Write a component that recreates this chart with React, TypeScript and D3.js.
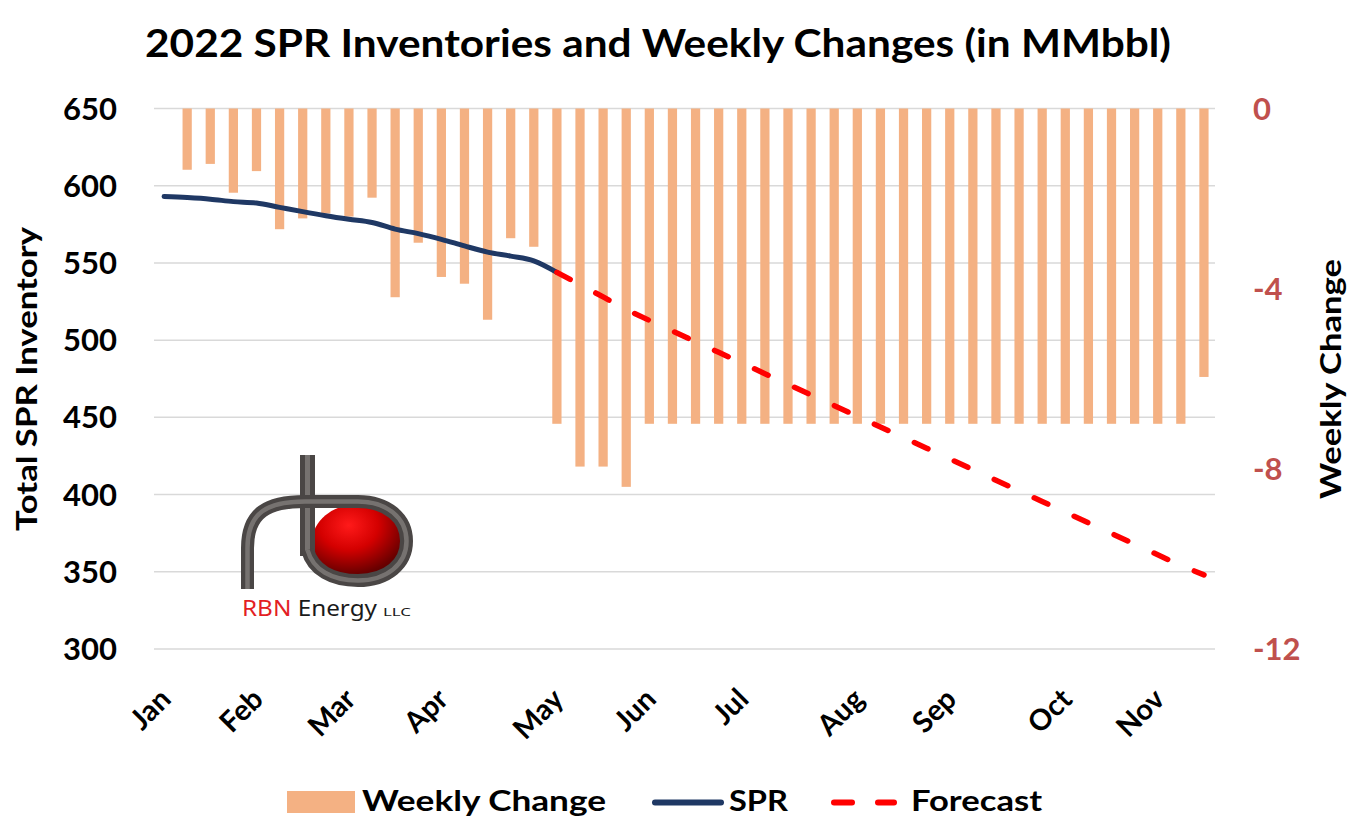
import React from "react";
import * as d3 from "d3";

const weeks = [
  "2022-01-07", "2022-01-14", "2022-01-21", "2022-01-28",
  "2022-02-04", "2022-02-11", "2022-02-18", "2022-02-25",
  "2022-03-04", "2022-03-11", "2022-03-18", "2022-03-25",
  "2022-04-01", "2022-04-08", "2022-04-15", "2022-04-22", "2022-04-29",
  "2022-05-06", "2022-05-13", "2022-05-20", "2022-05-27",
  "2022-06-03", "2022-06-10", "2022-06-17", "2022-06-24",
  "2022-07-01", "2022-07-08", "2022-07-15", "2022-07-22", "2022-07-29",
  "2022-08-05", "2022-08-12", "2022-08-19", "2022-08-26",
  "2022-09-02", "2022-09-09", "2022-09-16", "2022-09-23", "2022-09-30",
  "2022-10-07", "2022-10-14", "2022-10-21", "2022-10-28",
  "2022-11-04", "2022-11-11", "2022-11-18",
];

const weeklyChange: (number | null)[] = [
  null, -1.36, -1.23, -1.87, -1.39, -2.68, -2.44, -2.33, -2.4, -1.98,
  -4.19, -2.98, -3.74, -3.89, -4.69, -2.88, -3.07, -7.0, -7.95, -7.95,
  -8.4, -7.0, -7.0, -7.0, -7.0, -7.0, -7.0, -7.0, -7.0, -7.0,
  -7.0, -7.0, -7.0, -7.0, -7.0, -7.0, -7.0, -7.0, -7.0, -7.0,
  -7.0, -7.0, -7.0, -7.0, -7.0, -5.96,
];

const sprWeeks = weeks.slice(0, 18);
const sprValues = [
  593.0, 592.3, 591.3, 589.7, 588.8, 586.0, 583.2, 580.6, 578.3, 576.2,
  571.9, 569.0, 565.3, 561.0, 557.0, 554.4, 551.4, 543.9,
];

const forecastWeeks = weeks.slice(17);
const forecastValues = [
  543.9, 536.0, 528.0, 519.8, 512.8, 505.9, 499.0, 492.1, 485.2, 478.3,
  471.4, 464.5, 457.6, 450.7, 443.8, 436.9, 430.0, 423.1, 416.2, 409.3,
  402.4, 395.5, 388.6, 381.7, 374.8, 367.9, 361.0, 354.1, 348.0,
];

const monthTickWeeks = [
  "2022-01-07", "2022-02-04", "2022-03-04", "2022-04-01", "2022-05-06",
  "2022-06-03", "2022-07-01", "2022-08-05", "2022-09-02", "2022-10-07",
  "2022-11-04",
];
const monthLabels = ["Jan", "Feb", "Mar", "Apr", "May", "Jun", "Jul", "Aug", "Sep", "Oct", "Nov"];

const leftTicks = [300, 350, 400, 450, 500, 550, 600, 650];
const rightTicks = [0, -4, -8, -12];

const FONT = "Lato, 'Open Sans', sans-serif";
const BAR = "#F4B183";
const NAVY = "#1F3864";
const RED = "#FF0000";
const AXISRED = "#C0504D";
const GRID = "#D9D9D9";

function Logo() {
  const pipe =
    "M 247.5 589 L 247.5 548 C 247.5 512 268 501.5 305 501.5 L 358 501.5 " +
    "C 387 501.5 406.5 518 406.5 541 C 406.5 564 387 580.5 358 580.5 " +
    "C 332 580.5 313 570 307.5 550";
  const stem = "M 307.5 455 L 307.5 556";
  return (
    <g>
      <defs>
        <radialGradient id="ball" cx="0.4" cy="0.28" r="0.8">
          <stop offset="0" stopColor="#ff1a1a" />
          <stop offset="0.4" stopColor="#d40000" />
          <stop offset="0.8" stopColor="#6a0000" />
          <stop offset="1" stopColor="#4a0000" />
        </radialGradient>
      </defs>
      <ellipse cx={358} cy={542} rx={46} ry={38} fill="url(#ball)" />
      <path d={stem} stroke="#4a4645" strokeWidth={15} fill="none" />
      <path d={stem} stroke="#86817f" strokeWidth={5} fill="none" opacity={0.75} />
      <path d={pipe} stroke="#4a4645" strokeWidth={13} fill="none" />
      <path d={pipe} stroke="#86817f" strokeWidth={4.5} fill="none" opacity={0.75} />
      <text x={242} y={616} fontFamily="'Noto Sans', sans-serif" fontSize={21}
        textLength={135} lengthAdjust="spacingAndGlyphs">
        <tspan fill="#e31e24">RBN</tspan>
        <tspan fill="#1a1a1a"> Energy</tspan>
      </text>
      <text x={383} y={616} fontFamily="'Noto Sans', sans-serif" fontSize={11} fill="#1a1a1a"
        textLength={28} lengthAdjust="spacingAndGlyphs">LLC</text>
    </g>
  );
}

export default function App() {
  const W = 1362, H = 838;
  const x = d3.scaleBand<string>().domain(weeks).range([152.5, 1215.5]).paddingInner(0.6).paddingOuter(0.3);
  const yL = d3.scaleLinear().domain([300, 650]).range([649, 108.5]);
  const yR = d3.scaleLinear().domain([-12, 0]).range([649, 108.5]);
  const cx = (w: string) => (x(w) as number) + x.bandwidth() / 2;

  const sprLine = d3.line<number>().x((_, i) => cx(sprWeeks[i])).y((v) => yL(v)).curve(d3.curveMonotoneX);
  const fcLine = d3.line<number>().x((_, i) => cx(forecastWeeks[i])).y((v) => yL(v));

  return (
    <svg width={W} height={H} style={{ position: "absolute", left: 0, top: 0, background: "#fff" }}>
      <rect width={W} height={H} fill="#fff" />
      <text x={658} y={57} textAnchor="middle" fontFamily={FONT} fontWeight={700} fontSize={39}
        textLength={1026} lengthAdjust="spacingAndGlyphs">
        2022 SPR Inventories and Weekly Changes (in MMbbl)
      </text>

      {leftTicks.map((t) => (
        <line key={"g" + t} x1={154} x2={1215} y1={yL(t)} y2={yL(t)} stroke={GRID} strokeWidth={1.5} />
      ))}

      {weeklyChange.map((v, i) =>
        v == null ? null : (
          <rect key={"b" + i} x={x(weeks[i])} width={x.bandwidth()} y={yR(0)} height={yR(v) - yR(0)} fill={BAR} />
        )
      )}

      <path d={sprLine(sprValues) || ""} stroke={NAVY} strokeWidth={5} fill="none" strokeLinecap="round" strokeLinejoin="round" />
      <path d={fcLine(forecastValues) || ""} stroke={RED} strokeWidth={5.5} fill="none" strokeLinecap="round"
        strokeDasharray="15 29" />

      {leftTicks.map((t) => (
        <text key={"l" + t} x={117} y={yL(t) + 11} textAnchor="end" fontFamily={FONT} fontWeight={700} fontSize={31}>
          {t}
        </text>
      ))}
      {rightTicks.map((t) => (
        <text key={"r" + t} x={1253} y={yR(t) + 11} textAnchor="start" fontFamily={FONT} fontWeight={700} fontSize={31} fill={AXISRED}>
          {t}
        </text>
      ))}

      {monthTickWeeks.map((w, i) => (
        <text key={"m" + w} transform={`translate(${cx(w) + 8.5},701) rotate(-45)`} textAnchor="end"
          fontFamily={FONT} fontWeight={700} fontSize={29}>
          {monthLabels[i]}
        </text>
      ))}

      <text transform="translate(37,379) rotate(-90)" textAnchor="middle" fontFamily={FONT} fontWeight={700} fontSize={28}
        textLength={304} lengthAdjust="spacingAndGlyphs">Total SPR Inventory</text>
      <text transform="translate(1341,379) rotate(-90)" textAnchor="middle" fontFamily={FONT} fontWeight={700} fontSize={28}
        textLength={240} lengthAdjust="spacingAndGlyphs">Weekly Change</text>

      <Logo />

      <g>
        <rect x={287} y={791} width={68} height={22} fill={BAR} />
        <text x={362} y={811} fontFamily={FONT} fontWeight={700} fontSize={29} textLength={244} lengthAdjust="spacingAndGlyphs">Weekly Change</text>
        <line x1={655} x2={721} y1={802.5} y2={802.5} stroke={NAVY} strokeWidth={6} strokeLinecap="round" />
        <text x={729} y={811} fontFamily={FONT} fontWeight={700} fontSize={29} textLength={59} lengthAdjust="spacingAndGlyphs">SPR</text>
        <line x1={834} x2={852} y1={802.5} y2={802.5} stroke={RED} strokeWidth={6} strokeLinecap="round" />
        <line x1={878} x2={894} y1={802.5} y2={802.5} stroke={RED} strokeWidth={6} strokeLinecap="round" />
        <text x={911} y={811} fontFamily={FONT} fontWeight={700} fontSize={29} textLength={131} lengthAdjust="spacingAndGlyphs">Forecast</text>
      </g>
    </svg>
  );
}
